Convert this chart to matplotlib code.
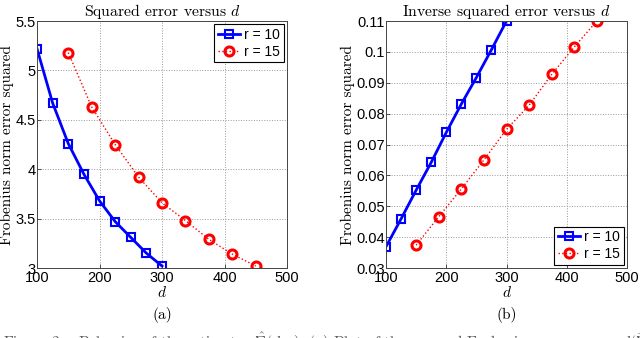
import matplotlib.pyplot as plt
import numpy as np

d_r10 = [100, 125, 150, 175, 200, 225, 250, 275, 300]
d_r15 = [150, 187.5, 225, 262.5, 300, 337.5, 375, 412.5, 450]

sq_r10 = [5.22, 4.67, 4.26, 3.95, 3.68, 3.47, 3.31, 3.15, 3.02]
sq_r15 = [5.18, 4.63, 4.25, 3.92, 3.66, 3.48, 3.29, 3.14, 3.02]

inv_r10 = [0.0369, 0.0459, 0.0552, 0.0642, 0.0739, 0.0831, 0.0917, 0.1007, 0.110]
inv_r15 = [0.0374, 0.0466, 0.0556, 0.0650, 0.0749, 0.0827, 0.0927, 0.1016, 0.110]

labels = ["r = 10", "r = 15"]
titles = ["Squared error versus $d$", "Inverse squared error versus $d$"]
panels = ["(a)", "(b)"]

plt.rcParams['mathtext.fontset'] = 'cm'
serif = 'cmr10'
sans = 'Liberation Sans'


def draw(ax, y10, y15, ylim, yticks, ytl, title, panel, loc):
    ax.plot(d_r10, y10, '-s', color='#0000ff', lw=2, ms=6, mfc='none',
            mew=1.5, label=labels[0])
    ax.plot(d_r15, y15, ':o', color='#ff0000', lw=1, ms=6.5, mfc='none',
            mew=2.2, label=labels[1])
    ax.set_xlim(100, 500)
    ax.set_ylim(*ylim)
    ax.set_xticks([100, 200, 300, 400, 500])
    ax.set_yticks(yticks)
    ax.set_yticklabels(ytl)
    for t in ax.get_xticklabels() + ax.get_yticklabels():
        t.set_fontfamily(sans)
        t.set_fontsize(10.5)
    ax.tick_params(direction='in', length=3, width=0.6, pad=1, color='#333333')
    ax.tick_params(axis='x', pad=2.5)
    ax.grid(True, ls=':', color='#999999', lw=0.7)
    for s in ax.spines.values():
        s.set_color('#444444')
        s.set_linewidth(0.7)
    ax.set_title(title, family=serif, fontsize=11.3, pad=2)
    ax.set_ylabel("Frobenius norm error squared", family=serif, fontsize=11, labelpad=1)
    ax.set_xlabel("$d$", fontsize=11, labelpad=0)
    ax.text(0.5, -0.19, panel, transform=ax.transAxes, ha='center', va='center',
            family=serif, fontsize=11)
    leg = ax.legend(loc=loc, prop={'family': sans, 'size': 10}, fancybox=False,
                    edgecolor='black', framealpha=1, borderpad=0.25,
                    handlelength=1.6, handletextpad=0.3, labelspacing=0.2,
                    borderaxespad=0.25)
    leg.get_frame().set_linewidth(0.8)


fig = plt.figure(figsize=(6.4, 3.38), dpi=100)
ax1 = fig.add_axes([37 / 640, 1 - 268 / 338, 250 / 640, 247 / 338])
ax2 = fig.add_axes([386 / 640, 1 - 268 / 338, 241 / 640, 247 / 338])

draw(ax1, sq_r10, sq_r15, (3, 5.5), [3, 3.5, 4, 4.5, 5, 5.5],
     ["3", "3.5", "4", "4.5", "5", "5.5"], titles[0], panels[0], 'upper right')
draw(ax2, inv_r10, inv_r15, (0.03, 0.11), np.arange(0.03, 0.111, 0.01),
     ["0.03", "0.04", "0.05", "0.06", "0.07", "0.08", "0.09", "0.1", "0.11"],
     titles[1], panels[1], 'lower right')

fig.text(0.005, -0.012, "Figure 2.   Behavior of the estimator $\\hat{\\Sigma}(d, r)$. (a) Plot of the squared Frobenius error versus $d(\\widehat{\\Sigma},\\widehat{\\Sigma})$",
         family=serif, fontsize=11, va='center', color='#555555')

fig.savefig("out.png", dpi=100)
